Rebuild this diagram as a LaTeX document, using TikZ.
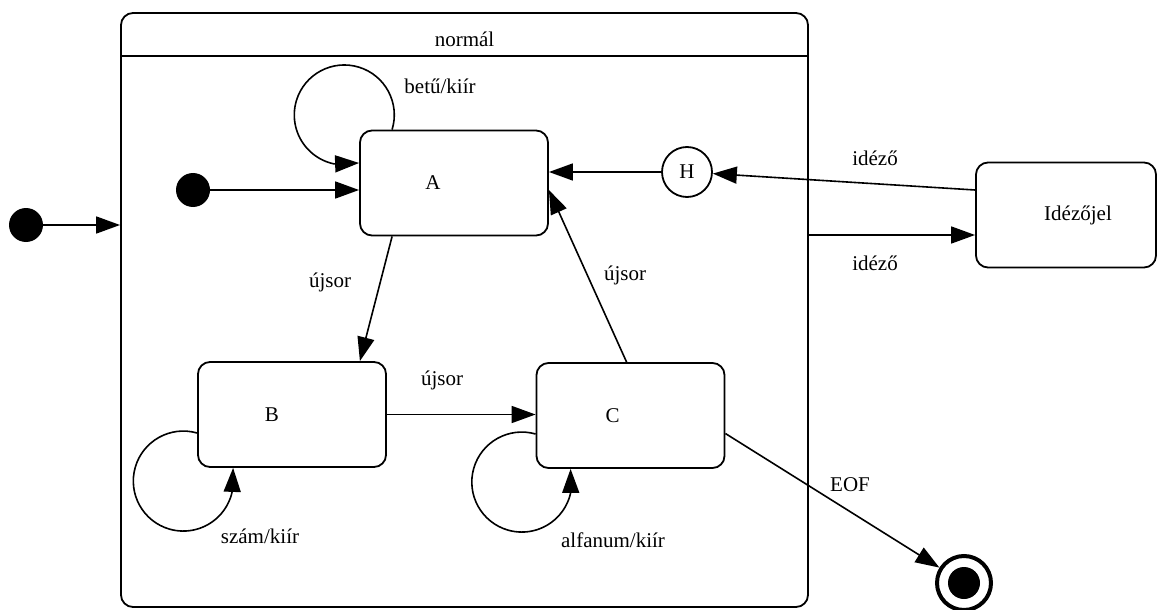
\documentclass[tikz,border=0pt]{standalone}
\usepackage{fontspec}
\setmainfont{Liberation Serif}
\usetikzlibrary{arrows.meta, positioning, calc}

\begin{document}
\begin{tikzpicture}[
  x=0.5pt, y=0.5pt,
  font=\fontsize{10.5}{12.5}\selectfont,
  state/.style = {draw, rounded corners=6pt, line width=0.9pt,
                  minimum width=94pt, minimum height=52.5pt, inner sep=0pt},
  dot/.style   = {circle, fill=black, inner sep=0pt, minimum size=17pt},
  hist/.style  = {circle, draw, line width=0.9pt, inner sep=0pt, minimum size=25pt},
  final/.style = {circle, draw, line width=2pt, inner sep=0pt, minimum size=27pt,
                  path picture={\fill (path picture bounding box.center) circle (8pt);}},
  arr/.style   = {-{Triangle[length=12pt, width=8.5pt]}, line width=0.8pt},
  lbl/.style   = {inner sep=0pt}
]
\useasboundingbox (0,0) rectangle (1157,-610);

% ── CONTAINER ───────────────────────────────────────────
\node[draw, rounded corners=6pt, line width=0.9pt, minimum width=343.5pt,
      minimum height=297pt, inner sep=0pt] (normal) at (464.5,-310) {};
\draw[line width=0.9pt] ($(normal.north west)+(0,-44)$) -- ($(normal.north east)+(0,-44)$);
\node[lbl] (ntitle) at ($(normal.north)+(0,-27)$) {normál};

% ── STATES ──────────────────────────────────────────────
\node[state, label={[lbl,xshift=-10.5pt]center:A}] (A) at (454,-183) {};
\node[state, label={[lbl,xshift=-10pt]center:B}]   (B) at (292,-414.5) {};
\node[state, label={[lbl,xshift=-9pt]center:C}]    (C) at (630.5,-415.5) {};
\node[state, minimum width=90pt, label={[lbl,xshift=6pt]center:Idézőjel}]
      (idez) at (1066,-215) {};
\node[hist] (H) at (687,-172) {H};

\node[dot]   (init)  at (26,-225) {};
\node[dot]   (init2) at (193,-190) {};
\node[final] (fin)   at (964,-583) {};

% ── TRANSITIONS ─────────────────────────────────────────
\draw[arr] (init) -- (init -| normal.west);
\draw[arr] (init2) -- (init2 -| A.west);

\draw[arr] ($(A.north west)+(33,0)$) arc[start angle=-17, end angle=258, radius=50]
           -- ($(A.west)+(0,20)$);
\draw[arr] ($(B.west)+(0,-18.5)$) arc[start angle=74, end angle=348, radius=50]
           -- ($(B.south west)+(36,0)$);
\draw[arr] ($(C.west)+(0,-18.5)$) arc[start angle=74, end angle=348, radius=50]
           -- ($(C.south west)+(35,0)$);

\draw[arr] ($(A.south west)+(33,0)$) -- ($(B.north east)+(-27,0)$);
\draw[arr] (B.east) -- (B.east -| C.west);
\draw[arr] ($(C.north west)+(91,0)$) -- ($(A.east)+(0,-7)$);
\draw[arr] (H.west) -- (H.west -| A.east);
\draw[arr] ($(idez.west)+(0,25)$) -- (H);
\coordinate (q) at ($(idez.west)+(0,-20)$);
\draw[arr] (q -| normal.east) -- (q);
\draw[arr] ($(C.east)+(0,-18)$) -- (fin);

% ── LABELS ──────────────────────────────────────────────
\node[lbl] (l1) at (440,-86)  {betű/kiír};
\node[lbl] (l2) at (260,-536) {szám/kiír};
\node[lbl] (l3) at (613,-540) {alfanum/kiír};
\node[lbl] (l4) at (330,-282) {újsor};
\node[lbl] (l5) at (442,-380) {újsor};
\node[lbl] (l6) at (625,-275) {újsor};
\node[lbl] (l7) at (875,-158) {idéző};
\node[lbl] (l8) at (875,-263) {idéző};
\node[lbl] (l9) at (850,-485) {EOF};

\end{tikzpicture}
\end{document}
